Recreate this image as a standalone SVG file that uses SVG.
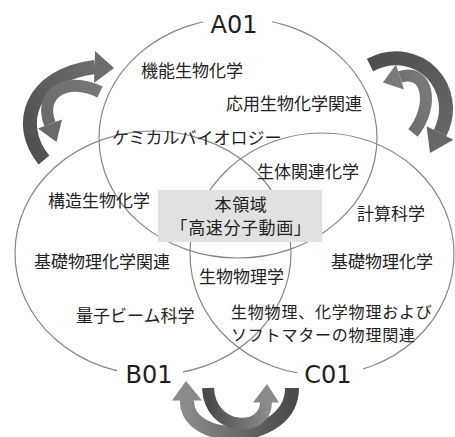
<svg xmlns="http://www.w3.org/2000/svg" width="455" height="437" viewBox="0 0 455 437">
<style>
.ring{fill:none;stroke:#858585;stroke-width:1.2}
.gap{fill:#fff}
.lbl{font-family:"DejaVu Sans","Liberation Sans",sans-serif;font-size:24px;fill:#1e1e1e;text-anchor:middle}
.t{font-family:"Noto Sans CJK JP","Noto Sans",sans-serif;font-size:17px;fill:#222}
.t2{font-family:"Noto Sans CJK JP","Noto Sans",sans-serif;font-size:16px;letter-spacing:0.8px;fill:#222}
.tb{font-family:"Noto Sans CJK JP","Noto Sans",sans-serif;font-size:17px;letter-spacing:0.6px;fill:#222;text-anchor:middle}
.band{fill:none;stroke-linecap:butt}
</style>
<defs>
<linearGradient id="gOutL" x1="0" y1="1" x2="1" y2="0"><stop offset="0" stop-color="#4e4e4e"/><stop offset="1" stop-color="#6c6c6c"/></linearGradient>
<linearGradient id="gInL" x1="1" y1="0" x2="0" y2="1"><stop offset="0" stop-color="#777"/><stop offset="1" stop-color="#6a6a6a"/></linearGradient>
<linearGradient id="gOutR" x1="0" y1="0" x2="1" y2="1"><stop offset="0" stop-color="#4e4e4e"/><stop offset="1" stop-color="#666"/></linearGradient>
<linearGradient id="gInR" x1="0" y1="1" x2="1" y2="0"><stop offset="0" stop-color="#6a6a6a"/><stop offset="1" stop-color="#7a7a7a"/></linearGradient>
<linearGradient id="gOutB" x1="1" y1="0" x2="0" y2="0"><stop offset="0" stop-color="#4a4a4a"/><stop offset="1" stop-color="#8a8a8a"/></linearGradient>
<linearGradient id="gInB" x1="0" y1="0" x2="1" y2="0"><stop offset="0" stop-color="#4a4a4a"/><stop offset="1" stop-color="#8a8a8a"/></linearGradient>
</defs>
<rect width="455" height="437" fill="#fff"/>

<g id="circle-a">
<ellipse class="ring" cx="238" cy="138" rx="139" ry="120"/>
</g>
<g id="circle-b">
<ellipse class="ring" cx="153" cy="253" rx="138" ry="122"/>
</g>
<g id="circle-c">
<ellipse class="ring" cx="322" cy="254" rx="132" ry="121"/>
</g>

<g id="label-a01">
<rect class="gap" x="203" y="6" width="69" height="32"/>
<text class="lbl" x="234" y="33">A01</text>
</g>
<g id="label-b01">
<rect class="gap" x="117" y="358" width="66" height="32"/>
<text class="lbl" x="149" y="383">B01</text>
</g>
<g id="label-c01">
<rect class="gap" x="297" y="358" width="66" height="32"/>
<text class="lbl" x="328" y="383">C01</text>
</g>

<g id="center-box">
<rect x="158" y="190" width="164" height="52" fill="#e1e1e1"/>
<text class="tb"><tspan x="241" y="211">本領域</tspan><tspan x="241" y="234">「高速分子動画」</tspan></text>
</g>

<g id="topics">
<text class="t" x="141" y="77">機能生物化学</text>
<text class="t" x="226" y="110">応用生物化学関連</text>
<text class="t" x="112" y="144">ケミカルバイオロジー</text>
<text class="t" x="257" y="178">生体関連化学</text>
<text class="t" x="48" y="207">構造生物化学</text>
<text class="t" x="357" y="220">計算科学</text>
<text class="t" x="34" y="268">基礎物理化学関連</text>
<text class="t" x="331" y="268">基礎物理化学</text>
<text class="t" x="199" y="283">生物物理学</text>
<text class="t" x="76" y="322">量子ビーム科学</text>
<text class="t2"><tspan x="231" y="318">生物物理、化学物理および</tspan><tspan x="231" y="341">ソフトマターの物理関連</tspan></text>
</g>

<g id="connectors">
<g id="arrows-left">
<path class="band" d="M44 160 C15 125 30 75 95 67" stroke="url(#gOutL)" stroke-width="14"/>
<polygon points="95,51 114,68 94,83" fill="#6c6c6c"/>
<path class="band" d="M100 92 C65 75 38 95 50 124" stroke="url(#gInL)" stroke-width="12"/>
<polygon points="62,119.5 38,128.5 56.5,142" fill="#6a6a6a"/>
</g>
<g id="arrows-right">
<path class="band" d="M370 65 C420 40 462 90 440 133" stroke="url(#gOutR)" stroke-width="14"/>
<polygon points="453.4,139.8 426.6,126.2 430,153" fill="#666"/>
<path class="band" d="M413 133 C435 105 428 68 400 77" stroke="url(#gInR)" stroke-width="12"/>
<polygon points="404,89.4 396,64.6 382.9,82.5" fill="#7a7a7a"/>
</g>
<g id="arrows-bottom">
<path class="band" d="M292 388 C292 445 186 447 187 400" stroke="url(#gOutB)" stroke-width="14"/>
<polygon points="172,400.5 202,400.5 186,381" fill="#8a8a8a"/>
<path class="band" d="M208 388 C210 432 266 434 266 402" stroke="url(#gInB)" stroke-width="12"/>
<polygon points="253,402.5 279,402.5 267,384" fill="#8a8a8a"/>
</g>
</g>
</svg>
